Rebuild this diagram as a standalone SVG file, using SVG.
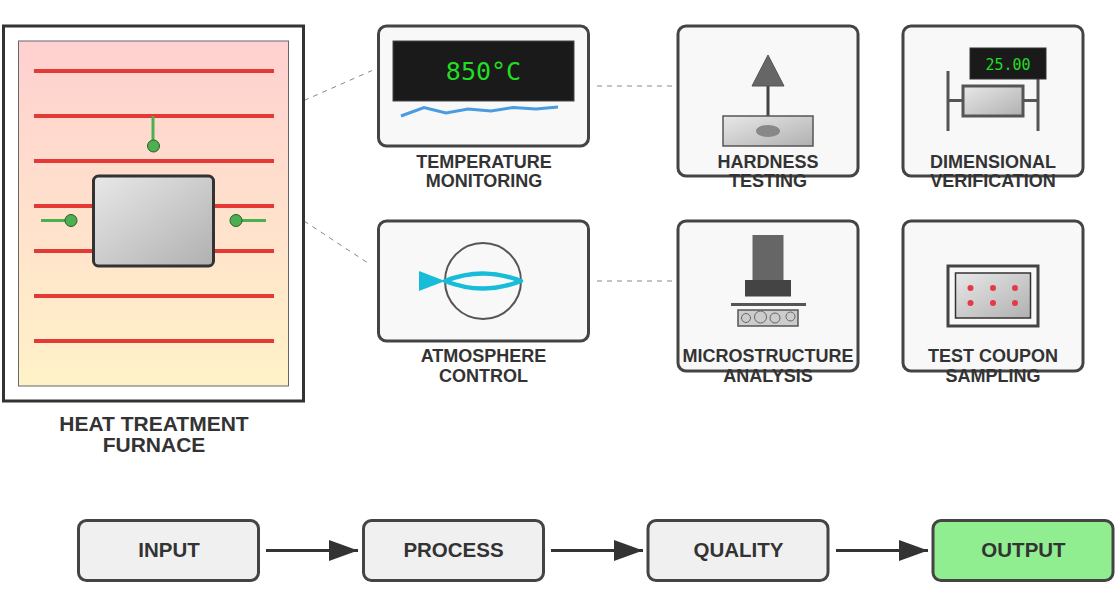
<svg xmlns="http://www.w3.org/2000/svg" width="1120" height="600" viewBox="0 0 1120 600">
<defs>
<linearGradient id="heat" x1="0" y1="0" x2="0" y2="1"><stop offset="0" stop-color="#ffd0d0"/><stop offset="1" stop-color="#fff2c8"/></linearGradient>
<linearGradient id="metal" x1="0" y1="0" x2="1" y2="1"><stop offset="0" stop-color="#e8e8e8"/><stop offset="1" stop-color="#b0b0b0"/></linearGradient>
<marker id="arrow" markerUnits="userSpaceOnUse" markerWidth="30" markerHeight="22" refX="29" refY="11" orient="auto"><path d="M0 0.500L29 11L0 21.500Z" fill="#333"/></marker>
</defs>
<style>
text{font-family:"Liberation Sans",Arial,sans-serif;font-weight:700;text-anchor:middle;fill:#333}
.lab{font-size:18px}
.flow{font-size:20.500px}
.big{font-size:21px}
.mono{font-family:"DejaVu Sans Mono",monospace;font-weight:400;fill:#22dd22}
.card{fill:#f8f8f8;stroke:#444;stroke-width:3}
.step{fill:#f0f0f0;stroke:#444;stroke-width:3}
.heater{stroke:#e53935;stroke-width:4}
.tc{stroke:#4caf50;stroke-width:3}
.tcb{fill:#4caf50;stroke:#2a5a2c;stroke-width:1}
.dash{stroke:#888;stroke-width:1;stroke-dasharray:5 5;fill:none}
.flowline{stroke:#333;stroke-width:3;marker-end:url(#arrow)}
</style>
<rect width="1120" height="600" fill="#fff"/>
<g id="connectors">
<path class="dash" d="M304 100.500L372 70.500"/>
<path class="dash" d="M304 221L368 263"/>
<path class="dash" d="M597 86H672"/>
<path class="dash" d="M597 281H672"/>
<path class="flowline" d="M266 550.500H358"/>
<path class="flowline" d="M551 550.500H643"/>
<path class="flowline" d="M836 550.500H928"/>
</g>
<g id="furnace">
<rect x="3.500" y="26" width="300" height="375" fill="#fff" stroke="#333" stroke-width="3"/>
<rect x="18.500" y="41" width="270" height="345" fill="url(#heat)" stroke="#666" stroke-width="1"/>
<path class="heater" d="M34 71H274M34 116H274M34 161H274M34 206H274M34 251H274M34 296H274M34 341H274"/>
<rect x="93.500" y="176" width="120" height="90" rx="5" fill="url(#metal)" stroke="#333" stroke-width="3"/>
<path class="tc" d="M153 116V146M41 220.500H71M266 220.500H236"/>
<circle class="tcb" cx="153.500" cy="146" r="6"/>
<circle class="tcb" cx="71" cy="220.500" r="6"/>
<circle class="tcb" cx="236" cy="220.500" r="6"/>
<text class="big" x="154" y="430.500">HEAT TREATMENT</text>
<text class="big" x="154" y="452">FURNACE</text>
</g>
<g id="temperature">
<rect class="card" x="378.500" y="26" width="210" height="120" rx="8"/>
<rect x="393" y="41" width="181" height="60" fill="#1a1a1a" stroke="#444" stroke-width="1"/>
<text class="mono" x="483.500" y="79.500" font-size="25">850°C</text>
<path d="M401 116L424 107.500L446 113L468 109L491 111L513 107.500L536 109L558 107" fill="none" stroke="#4a9be0" stroke-width="3"/>
<text class="lab" x="484" y="168">TEMPERATURE</text>
<text class="lab" x="484" y="187">MONITORING</text>
</g>
<g id="atmosphere">
<rect class="card" x="378.500" y="221" width="210" height="120" rx="8"/>
<circle cx="483" cy="281" r="38" fill="none" stroke="#555" stroke-width="2"/>
<path d="M419 271L445 281L419 291Z" fill="#17bcd8"/>
<path d="M445 281Q483 266 521 281Q483 296 445 281Z" fill="none" stroke="#17bcd8" stroke-width="4.500" stroke-linejoin="round"/>
<text class="lab" x="483.500" y="362">ATMOSPHERE</text>
<text class="lab" x="483.500" y="382">CONTROL</text>
</g>
<g id="hardness">
<rect class="card" x="678" y="26" width="180" height="150" rx="8"/>
<path d="M768 116V86" stroke="#444" stroke-width="3"/>
<path d="M768 55L784 86H752Z" fill="#666" stroke="#555" stroke-width="1"/>
<rect x="723" y="116" width="90" height="30" fill="url(#metal)" stroke="#555" stroke-width="1.500"/>
<ellipse cx="768" cy="131" rx="12" ry="6" fill="#888"/>
<text class="lab" x="768" y="168">HARDNESS</text>
<text class="lab" x="768" y="187">TESTING</text>
</g>
<g id="microstructure">
<rect class="card" x="678" y="221" width="180" height="150" rx="8"/>
<rect x="752.500" y="235" width="31" height="45" fill="#666"/>
<rect x="745" y="280" width="46" height="16.500" fill="#444"/>
<path d="M731 304.500H806" stroke="#555" stroke-width="3"/>
<rect x="738" y="310" width="60" height="16" fill="#ccc" stroke="#555" stroke-width="1.500"/>
<g fill="none" stroke="#666" stroke-width="1">
<circle cx="746" cy="318" r="4.500"/><circle cx="760.500" cy="317" r="6"/><circle cx="775" cy="318" r="5"/><circle cx="790.500" cy="316.500" r="4.500"/>
</g>
<text class="lab" x="768" y="362">MICROSTRUCTURE</text>
<text class="lab" x="768" y="382">ANALYSIS</text>
</g>
<g id="dimensional">
<rect class="card" x="903" y="26" width="180" height="150" rx="8"/>
<path d="M948 71V131M1038 71V131M948 100.500H963M1023 100.500H1038" stroke="#555" stroke-width="3" fill="none"/>
<rect x="963" y="86" width="60" height="30" fill="url(#metal)" stroke="#555" stroke-width="3"/>
<rect x="970" y="48" width="76" height="31" fill="#1a1a1a" stroke="#333" stroke-width="1"/>
<text class="mono" x="1008" y="70" font-size="15">25.00</text>
<text class="lab" x="993" y="168">DIMENSIONAL</text>
<text class="lab" x="993" y="187">VERIFICATION</text>
</g>
<g id="coupon">
<rect class="card" x="903" y="221" width="180" height="150" rx="8"/>
<rect x="948" y="266" width="90" height="60" fill="#f8f8f8" stroke="#444" stroke-width="3"/>
<rect x="955.500" y="273" width="75" height="45" fill="url(#metal)" stroke="#333" stroke-width="1.500"/>
<g fill="#e53945">
<circle cx="970.500" cy="288" r="3"/><circle cx="993" cy="288" r="3"/><circle cx="1015" cy="288" r="3"/>
<circle cx="970.500" cy="303" r="3"/><circle cx="993" cy="303" r="3"/><circle cx="1015" cy="303" r="3"/>
</g>
<text class="lab" x="993" y="362">TEST COUPON</text>
<text class="lab" x="993" y="382">SAMPLING</text>
</g>
<g id="input"><rect class="step" x="78.500" y="520.500" width="180" height="60" rx="8"/><text class="flow" x="169" y="557">INPUT</text></g>
<g id="process"><rect class="step" x="363.500" y="520.500" width="180" height="60" rx="8"/><text class="flow" x="453.500" y="557">PROCESS</text></g>
<g id="quality"><rect class="step" x="648" y="520.500" width="180" height="60" rx="8"/><text class="flow" x="738.500" y="557">QUALITY</text></g>
<g id="output"><rect class="step" x="933" y="520.500" width="180" height="60" rx="8" style="fill:#90ee90"/><text class="flow" x="1023.500" y="557">OUTPUT</text></g>
</svg>
